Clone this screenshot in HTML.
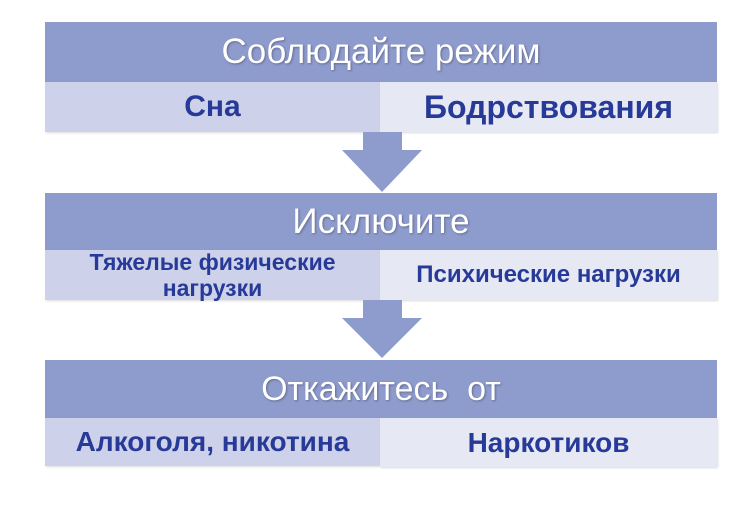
<html><head><style>
body{margin:0;width:754px;height:508px;background:#fff;position:relative;font-family:"Liberation Sans","DejaVu Sans",sans-serif;overflow:hidden}
.h{position:absolute;left:45px;width:672px;background:#8e9bcd;color:#fff;text-align:center;text-shadow:1px 1px 2px rgba(0,0,0,.3)}
.l,.r{position:absolute;display:flex;align-items:center;justify-content:center;text-align:center;color:#273a97;font-weight:bold;box-shadow:1px 1px 2px rgba(0,0,0,.15)}
.l{left:45px;width:335px;background:#cdd2ea}
.r{left:380px;width:337px;background:#e6e8f4}
.a{position:absolute;left:342px;width:80px}
</style></head><body>
<div class="h" style="top:22px;height:60px;line-height:60px;font-size:35px">Соблюдайте режим</div>
<div class="l" style="top:82px;height:50px;font-size:30px">Сна</div>
<div class="r" style="top:82px;height:50px;font-size:32px">Бодрствования</div>
<svg class="a" style="top:132px" height="62" width="80"><path d="M21 0H60V18H80L40 60L0 18H21Z" fill="#8e9bcd"/></svg>
<div class="h" style="top:193px;height:57px;line-height:57px;font-size:35px">Исключите</div>
<div class="l" style="top:250px;height:50px;font-size:23px;line-height:26px">Тяжелые физические<br>нагрузки</div>
<div class="r" style="top:250px;height:50px;font-size:24px">Психические нагрузки</div>
<svg class="a" style="top:300px" height="62" width="80"><path d="M21 0H60V18H80L40 58L0 18H21Z" fill="#8e9bcd"/></svg>
<div class="h" style="top:360px;height:58px;line-height:58px;font-size:34px">Откажитесь&nbsp; от</div>
<div class="l" style="top:418px;height:48px;font-size:28px">Алкоголя, никотина</div>
<div class="r" style="top:418px;height:49px;font-size:28px">Наркотиков</div>
</body></html>
